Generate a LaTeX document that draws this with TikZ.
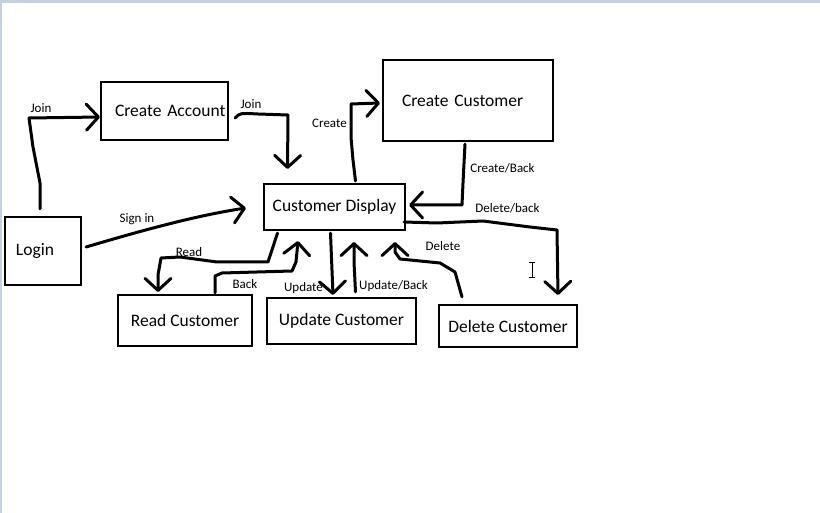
\documentclass[tikz,border=0pt]{standalone}
\usepackage{fontspec}
\setmainfont{Carlito}
\usetikzlibrary{arrows.meta,calc}
\definecolor{paneframe}{RGB}{197,207,224}
\begin{document}
\begin{tikzpicture}[x=1pt,y=-1pt,
  box/.style={draw, line width=2.2pt, inner sep=0pt, font=\fontsize{17.5}{20}\selectfont},
  flow/.style={line width=3pt, line cap=round, line join=round, ->,
    >={Straight Barb[length=12pt,width=26pt,round]}},
  lbl/.style={font=\fontsize{13}{15}\selectfont, inner sep=0pt}]

\useasboundingbox (0,0) rectangle (820,513);
\fill[paneframe] (0,0) rectangle (820,3);
\fill[paneframe] (0,0) rectangle (2,513);

\node[box, text width=54pt, inner xsep=11pt, minimum height=68pt, align=left] (login) at (43,251) {\mbox{Login}};
\node[box, text width=99pt, inner xsep=14pt, minimum height=58pt, align=left] (createacc) at (164.5,111) {\mbox{Create Account}};
\node[box, minimum width=141pt, minimum height=46pt] (display) at (334.5,207) {Customer Display};
\node[box, text width=132pt, inner xsep=19pt, minimum height=81pt, align=left] (createcust) at (468,100.5) {\mbox{Create Customer}};
\node[box, minimum width=134pt, minimum height=51pt] (readcust) at (185,320.5) {Read Customer};
\node[box, minimum width=149pt, minimum height=46pt] (updatecust) at (341.5,321) {Update Customer};
\node[box, minimum width=138pt, minimum height=42pt] (deletecust) at (508,326) {Delete Customer};

\draw[flow] ($(login.north)+(-3,-7)$) -- (40,183) -- (33,147) -- (29,118) -- ($(createacc.west)+(0,6)$);
\draw[flow] ($(createacc.east)+(6,7)$) .. controls (240,113) .. (258,114) -- (288,115) -- ($(display.north)+(-47,-14)$);
\draw[flow] ($(login.east)+(4,-4)$) .. controls (150,228) and (200,215) .. ($(display.west)+(-17,1)$);
\draw[flow] ($(display.north)+(21,-2)$) -- (353,160) -- (351,137) -- (351,104) -- ($(createcust.west)+(-2,2.5)$);
\draw[flow] ($(createcust.south)+(-3,2)$) -- (463,183) -- (462,205) -- ($(display.east)+(3,-2)$);
\draw[flow] ($(display.east)+(-2,15)$) -- (437,223) -- (483,221) -- (530,227) -- (557,230) -- ($(deletecust.north)+(50,-9)$);
\draw[flow] ($(display.south)+(-57,2)$) -- (268,262) -- (217,262) -- (180,257) -- (161,258) -- (158,275) -- ($(readcust.north)+(-27,-2)$);
\draw[flow] ($(readcust.north)+(30,-1)$) -- (215,276) -- (222,273) -- (292,271) -- (296,262) -- ($(display.south)+(-36.5,10)$);
\draw[flow] ($(display.south)+(-4,2)$) -- ($(updatecust.north)+(-8.5,-2)$);
\draw[flow] ($(updatecust.north)+(14,-5)$) -- (354,262) -- ($(display.south)+(19.5,11)$);
\draw[flow] ($(deletecust.north)+(-46,-7)$) -- (455,272) -- (440,263) -- (400,259) -- (395,252) -- ($(display.south)+(60.5,11)$);

\node[lbl] (joinlbl) at (41,108) {Join};
\node[lbl] (joinlbltwo) at (251,104) {Join};
\node[lbl] (signinlbl) at (137,219) {Sign in};
\node[lbl] (createlbl) at (329.5,123) {Create};
\node[lbl] (createbacklbl) at (502.5,168) {Create/Back};
\node[lbl] (deletebacklbl) at (507.5,208) {Delete/back};
\node[lbl] (readlbl) at (189,252) {Read};
\node[lbl] (backlbl) at (245,284) {Back};
\node[lbl] (updatelbl) at (303.5,288) {Update};
\node[lbl] (updatebacklbl) at (393.5,286) {Update/Back};
\node[lbl] (deletelbl) at (443,246) {Delete};

\draw[line width=0.8pt] (529,262) -- (535,262) (532,262) -- (532,277) (529,277) -- (535,277);
\end{tikzpicture}
\end{document}
